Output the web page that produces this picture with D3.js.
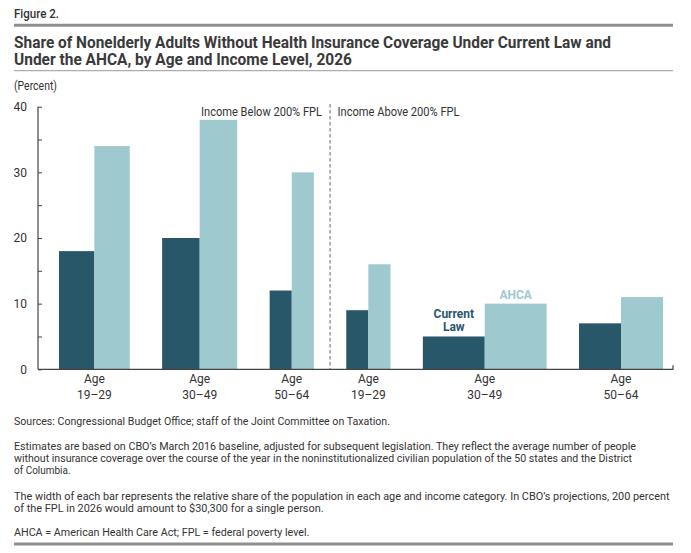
<!DOCTYPE html>
<html>
<head>
<meta charset="utf-8">
<script src="https://cdn.jsdelivr.net/npm/d3@7"></script>
<style>
  html, body { margin: 0; padding: 0; background: #fff; }
  svg { display: block; font-family: Roboto, "Liberation Sans", sans-serif; }
</style>
</head>
<body>
<svg id="chart" width="691" height="553"></svg>
<script>
// ---- Data ----
const ageGroups = ["19–29", "30–49", "50–64", "19–29", "30–49", "50–64"];
const incomeGroups = ["Income Below 200% FPL", "Income Above 200% FPL"];
const populationShare = [16, 17, 10, 10, 28, 19];   // relative bar width (% of population)
const currentLaw = [18, 20, 12, 9, 5, 7];
const ahca = [34, 38, 30, 16, 10, 11];
const yTickValues = [0, 10, 20, 30, 40];
const seriesNames = ["Current Law", "AHCA"];

const figureLabel = "Figure 2.";
const titleLines = [
  "Share of Nonelderly Adults Without Health Insurance Coverage Under Current Law and",
  "Under the AHCA, by Age and Income Level, 2026"
];
const unitLabel = "(Percent)";
const notes = [
  ["Sources: Congressional Budget Office; staff of the Joint Committee on Taxation."],
  ["Estimates are based on CBO’s March 2016 baseline, adjusted for subsequent legislation. They reflect the average number of people",
   "without insurance coverage over the course of the year in the noninstitutionalized civilian population of the 50 states and the District",
   "of Columbia."],
  ["The width of each bar represents the relative share of the population in each age and income category. In CBO’s projections, 200 percent",
   "of the FPL in 2026 would amount to $30,300 for a single person."],
  ["AHCA = American Health Care Act; FPL = federal poverty level."]
];

// ---- Style ----
const darkColor = "#285769";
const lightColor = "#9dc9cf";
const textColor = "#333333";
const ruleColor = "#8e8e8e";

const svg = d3.select("#chart");

// ---- Header ----
svg.append("text").attr("x", 14).attr("y", 17.5)
  .attr("font-size", 12).attr("font-weight", 500).attr("fill", textColor)
  .attr("textLength", 45).attr("lengthAdjust", "spacingAndGlyphs")
  .text(figureLabel);
svg.append("line").attr("x1", 14).attr("x2", 673).attr("y1", 25.3).attr("y2", 25.3)
  .attr("stroke", ruleColor).attr("stroke-width", 3);
const titleWidths = [597, 338];
titleLines.forEach((t, i) => {
  svg.append("text").attr("x", 14).attr("y", 47.7 + i * 16.8)
    .attr("font-size", 16.5).attr("font-weight", 700).attr("fill", "#3a3a3a")
    .attr("textLength", titleWidths[i]).attr("lengthAdjust", "spacingAndGlyphs")
    .text(t);
});
svg.append("line").attr("x1", 14).attr("x2", 673).attr("y1", 70.7).attr("y2", 70.7)
  .attr("stroke", "#adadad").attr("stroke-width", 1.3);
svg.append("text").attr("x", 14).attr("y", 89.5)
  .attr("font-size", 12).attr("fill", textColor)
  .attr("textLength", 43).attr("lengthAdjust", "spacingAndGlyphs")
  .text(unitLabel);

// ---- Scales ----
const plotLeft = 38, plotRight = 673, firstBar = 59, lastBarEnd = 663;
const y = d3.scaleLinear().domain([0, 40]).range([369.3, 106.7]);
const totalShare = d3.sum(populationShare);
const barSpan = 442;
const gap = (lastBarEnd - firstBar - barSpan) / (ageGroups.length - 1);
const w = d3.scaleLinear().domain([0, totalShare]).range([0, barSpan]);
const cum = d3.cumsum([0, ...populationShare]);
const groups = ageGroups.map((a, i) => ({
  age: a,
  x0: firstBar + w(cum[i]) + i * gap,
  width: w(populationShare[i]),
  cl: currentLaw[i],
  ah: ahca[i]
}));

// ---- Bars ----
const g = svg.append("g");
g.selectAll("rect.cl").data(groups).join("rect").attr("class", "cl")
  .attr("x", d => d.x0).attr("width", d => d.width / 2)
  .attr("y", d => y(d.cl)).attr("height", d => y(0) - y(d.cl))
  .attr("fill", darkColor);
g.selectAll("rect.ah").data(groups).join("rect").attr("class", "ah")
  .attr("x", d => d.x0 + d.width / 2).attr("width", d => d.width / 2)
  .attr("y", d => y(d.ah)).attr("height", d => y(0) - y(d.ah))
  .attr("fill", lightColor);

// ---- Y axis ----
const yAxis = d3.axisRight(y).tickValues(d3.range(0, 41, 5)).tickSize(4).tickFormat("");
const ya = svg.append("g").attr("transform", `translate(${plotLeft},0)`).call(yAxis);
ya.select(".domain").attr("stroke", "#444").attr("stroke-width", 1.2).attr("d", `M0,${y(40)}V${y(0)}`);
ya.selectAll(".tick line").attr("stroke", "#444").attr("stroke-width", 1);
svg.selectAll("text.ylab").data(yTickValues).join("text").attr("class", "ylab")
  .attr("x", 27).attr("y", d => y(d) + 4.3).attr("text-anchor", "end")
  .attr("font-size", 12).attr("fill", textColor).text(d => d);

// ---- X axis ----
svg.append("path").attr("d", `M${plotLeft},${y(0)}H${plotRight}V${y(0) - 4}`)
  .attr("fill", "none").attr("stroke", "#444").attr("stroke-width", 1.2);
const xl = svg.selectAll("g.xlab").data(groups).join("g").attr("class", "xlab")
  .attr("transform", d => `translate(${d.x0 + d.width / 2},0)`);
xl.append("text").attr("y", 382.5).attr("text-anchor", "middle")
  .attr("font-size", 12).attr("fill", textColor).text("Age");
xl.append("text").attr("y", 398.5).attr("text-anchor", "middle")
  .attr("font-size", 12).attr("fill", textColor).text(d => d.age);

// ---- Divider ----
const divX = (groups[2].x0 + groups[2].width + groups[3].x0) / 2;
svg.append("line").attr("x1", divX).attr("x2", divX).attr("y1", 104).attr("y2", y(0))
  .attr("stroke", "#666").attr("stroke-width", 1).attr("stroke-dasharray", "3.5,2.5");
svg.append("text").attr("x", divX - 8).attr("y", 115.8).attr("text-anchor", "end")
  .attr("font-size", 12).attr("fill", textColor)
  .attr("textLength", 121).attr("lengthAdjust", "spacingAndGlyphs")
  .text(incomeGroups[0]);
svg.append("text").attr("x", divX + 7.5).attr("y", 115.8)
  .attr("font-size", 12).attr("fill", textColor)
  .attr("textLength", 122).attr("lengthAdjust", "spacingAndGlyphs")
  .text(incomeGroups[1]);

// ---- Series labels (on the wide 30–49 group above 200% FPL) ----
const lg = groups[4];
const clWords = seriesNames[0].split(" ");
clWords.forEach((wd, i) => {
  svg.append("text").attr("x", lg.x0 + lg.width / 4).attr("y", y(lg.cl) - 18.5 + i * 13.3)
    .attr("text-anchor", "middle").attr("font-size", 12).attr("font-weight", 700)
    .attr("fill", darkColor).text(wd);
});
svg.append("text").attr("x", lg.x0 + lg.width * 3 / 4).attr("y", y(lg.ah) - 4.5)
  .attr("text-anchor", "middle").attr("font-size", 12).attr("font-weight", 700)
  .attr("fill", lightColor).text(seriesNames[1]);

// ---- Notes ----
const noteWidths = [[376], [622, 618, 56.6], [655.5, 309.6], [295.4]];
const noteStarts = [425.3, 449.5, 499.5, 535.5];
const lineH = 12.4;
notes.forEach((para, p) => {
  para.forEach((ln, j) => {
    svg.append("text").attr("x", 14).attr("y", noteStarts[p] + j * lineH)
      .attr("font-size", 11.3).attr("fill", textColor)
      .attr("textLength", noteWidths[p][j]).attr("lengthAdjust", "spacingAndGlyphs")
      .text(ln);
  });
});
svg.append("line").attr("x1", 14).attr("x2", 673).attr("y1", 544).attr("y2", 544)
  .attr("stroke", ruleColor).attr("stroke-width", 3);
</script>
</body>
</html>
